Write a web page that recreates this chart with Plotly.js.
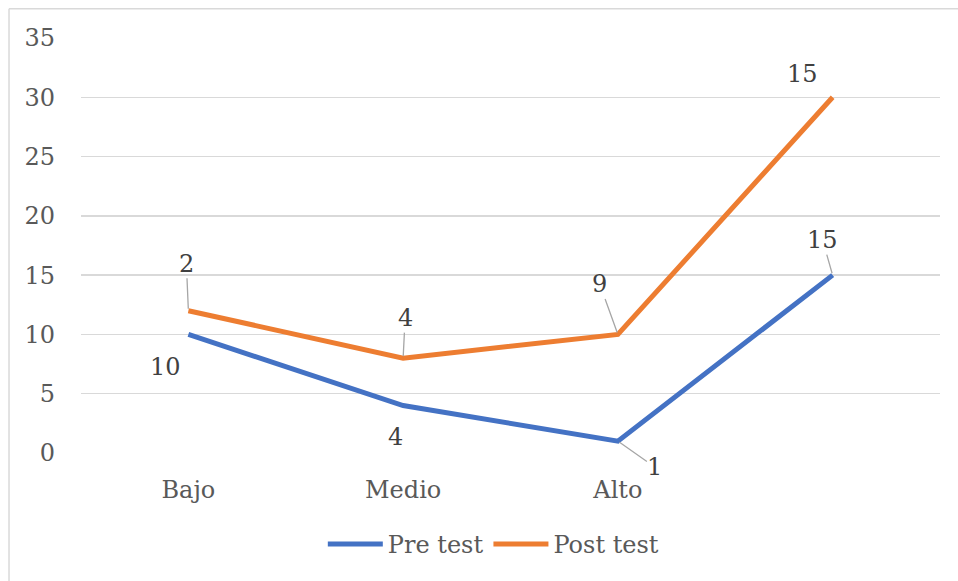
<!DOCTYPE html>
<html>
<head>
<meta charset="utf-8">
<script src="https://cdn.plot.ly/plotly-3.0.1.min.js"></script>
<style>
  html, body { margin: 0; padding: 0; background: #fff; }
  #chart { width: 958px; height: 581px; }
</style>
</head>
<body>
<div id="chart"></div>
<script>
// ---- data ----
const categories = ["Bajo", "Medio", "Alto", ""];
const seriesNames = ["Pre test", "Post test"];
const preTest = [10, 4, 1, 15];
const postTest = [2, 4, 9, 15];
const yTicks = [0, 5, 10, 15, 20, 25, 30, 35];

// ---- styling / label placement (pixel offsets, not data) ----
const colors = ["#4472C4", "#ED7D31"];
const FONT = "DejaVu Serif";
const TXT = "#595959";
const FS = 24;
// [ax, ay, showLeader]
const preOffsets = [[-23, 33, false], [-8, 31, false], [37, 26, true], [-10, -35, true]];
const postOffsets = [[-2, -47, true], [2, -40, true], [-18, -50, true], [-30, -23, false]];

const xIdx = categories.map((_, i) => i);
// stacked line chart: second series sits on top of the first
const postStacked = postTest.map((v, i) => v + preTest[i]);

const traces = [
  { x: xIdx, y: preTest, name: seriesNames[0], type: "scatter", mode: "lines",
    line: { color: colors[0], width: 5 } },
  { x: xIdx, y: postStacked, name: seriesNames[1], type: "scatter", mode: "lines",
    line: { color: colors[1], width: 5 } }
];

function makeLabels(vals, ys, offs) {
  return vals.map((v, i) => {
    const [ax, ay, leader] = offs[i];
    const base = {
      x: xIdx[i], y: ys[i], xref: "x", yref: "y", text: String(v),
      font: { family: FONT, size: FS, color: "#404040" }
    };
    if (leader) {
      return Object.assign(base, {
        showarrow: true, arrowhead: 0, arrowwidth: 1.3, arrowcolor: "#a6a6a6",
        ax: ax, ay: ay, standoff: 2, borderpad: 0
      });
    }
    return Object.assign(base, { showarrow: false, xshift: ax, yshift: -ay });
  });
}

const annotations = [
  ...makeLabels(preTest, preTest, preOffsets),
  ...makeLabels(postTest, postStacked, postOffsets)
];

const layout = {
  width: 958, height: 581,
  margin: { l: 81, r: 18, t: 38, b: 128 },
  paper_bgcolor: "#ffffff", plot_bgcolor: "#ffffff",
  font: { family: FONT, size: FS, color: TXT },
  showlegend: true,
  legend: {
    orientation: "h", x: 0.48, xanchor: "center", y: -0.22, yanchor: "middle",
    font: { family: FONT, size: FS, color: TXT }, itemwidth: 55
  },
  xaxis: {
    type: "linear", range: [-0.5, categories.length - 0.5],
    tickvals: xIdx, ticktext: categories,
    showgrid: false, zeroline: false, showline: false, ticks: "",
    ticklabelstandoff: 20,
    tickfont: { family: FONT, size: FS, color: TXT }
  },
  yaxis: {
    range: [0, 35], tickvals: yTicks, showgrid: true, gridcolor: "#d9d9d9", gridwidth: 1.3,
    zeroline: false, showline: false, ticks: "", ticklabelstandoff: 25,
    tickfont: { family: FONT, size: FS, color: TXT }
  },
  annotations: annotations,
  shapes: [
    { type: "line", xref: "paper", yref: "paper", x0: -0.0838, x1: -0.0838, y0: -0.31, y1: 1.0706,
      line: { color: "#d9d9d9", width: 1.5 } },
    { type: "line", xref: "paper", yref: "paper", x0: -0.0838, x1: 1.03, y0: 1.0706, y1: 1.0706,
      line: { color: "#d9d9d9", width: 1.5 } }
  ]
};

Plotly.newPlot("chart", traces, layout, { displayModeBar: false, staticPlot: true });
</script>
</body>
</html>
